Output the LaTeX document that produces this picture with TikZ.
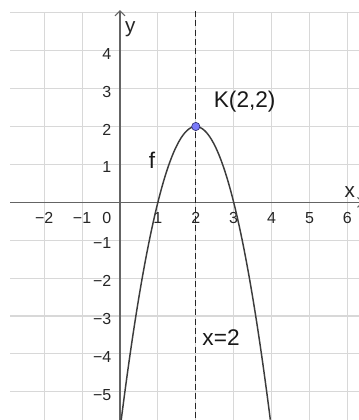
\documentclass[tikz,border=0pt]{standalone}
\usepackage{fontspec}
\setmainfont{Liberation Sans}
\usetikzlibrary{arrows.meta}
\definecolor{gridc}{RGB}{216,216,216}
\definecolor{axisc}{RGB}{100,100,100}
\definecolor{curvec}{RGB}{60,60,60}
\definecolor{ptfill}{RGB}{122,122,250}
\definecolor{ptdraw}{RGB}{50,50,120}
\tikzset{
  gridline/.style={draw=gridc, line width=0.8pt},
  axisline/.style={draw=axisc, line width=0.9pt, -{Straight Barb[length=3.8pt,width=7.5pt,line width=0.8pt]}},
  ticklab/.style={inner sep=0pt, font=\fontsize{12}{14}\selectfont, text=black!85},
  axislab/.style={inner sep=0pt, font=\fontsize{15.5}{18}\selectfont, text=black!85},
  biglab/.style={inner sep=0pt, font=\fontsize{17}{20}\selectfont, text=black!90},
  curve/.style={draw=curvec, line width=1.1pt},
  asym/.style={draw=black!85, line width=1pt, dash pattern=on 4.5pt off 2.5pt},
  ptstyle/.style={circle, fill=ptfill, draw=ptdraw, line width=0.5pt, inner sep=0pt, minimum size=6.2pt}
}
\begin{document}
\begin{tikzpicture}[x=1cm,y=1cm]
\useasboundingbox[fill=white] (-3.166,-5.744) rectangle (6.306,5.338);
% grid
\foreach \gx in {-2,-1,1,2,3,4,5,6} \draw[gridline] (\gx,-5.744) -- (\gx,5);
\foreach \gy in {-5,...,5} \draw[gridline] (-2.9,\gy) -- (6.306,\gy);
% axes
\coordinate (xl) at (-2.9,0);
\coordinate (xr) at (6.42,0);
\coordinate (yb) at (0,-5.744);
\coordinate (yt) at (0,5.074);
\draw[axisline] (xl) -- (xr);
\draw[axisline] (yb) -- (yt);
\node[axislab, anchor=base west] (xlab) at (5.92,0.132) {x};
\node[axislab, anchor=base west] (ylab) at (0.13,4.49) {y};
% x tick labels
\foreach \k/\t in {-2/−2,-1/−1,1/1,2/2,3/3,4/4,5/5,6/6}
  \node[ticklab, anchor=base] (xt\k) at (\k,-0.554) {\t};
\node[ticklab, anchor=base east] (xt0) at (-0.22,-0.554) {0};
% y tick labels
\foreach \k/\t in {-5/−5,-4/−4,-3/−3,-2/−2,-1/−1,1/1,2/2,3/3,4/4}
  \node[ticklab, anchor=base east] (yt\k) at (-0.22,\k-0.224) {\t};
% asymptote-like symmetry line x=2
\coordinate (st) at (2,5.05);
\coordinate (sb) at (2,-5.744);
\draw[asym] (st) -- (sb);
% parabola f(x) = -2(x-2)^2 + 2
\draw[curve, domain=0.032:3.968, samples=120, smooth] plot (\x,{-2*(\x-2)*(\x-2)+2});
% vertex
\node[ptstyle] (K) at (2,2) {};
\node[biglab, anchor=base west] (Klab) at (2.47,2.496) {K(2,2)};
\node[biglab, anchor=base west] (flab) at (0.755,0.879) {f};
\node[biglab, anchor=base west] (slab) at (2.17,-3.784) {x=2};
\end{tikzpicture}
\end{document}
